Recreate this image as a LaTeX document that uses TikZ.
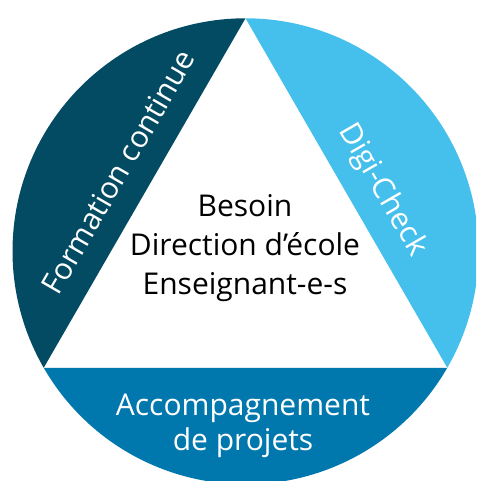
\documentclass[tikz,border=0pt]{standalone}
\usepackage{fontspec}
\setmainfont{Open Sans}
\usetikzlibrary{calc,positioning}
\definecolor{petrol}{HTML}{034B63}
\definecolor{himmel}{HTML}{45BFEB}
\definecolor{ozean}{HTML}{0077AD}
\tikzset{
		segtext/.style={
			text=white,
			font=\fontsize{30}{35}\selectfont,
			align=center,
			inner sep=0pt},
		kerntext/.style={
			text=black,
			font=\fontsize{30}{39}\selectfont,
			align=center,
			inner sep=0pt},
	}

\begin{document}
\begin{tikzpicture}[x=1pt,y=1pt]
				\useasboundingbox (0,0) rectangle (476,481);
				\clip (0,0) rectangle (476,481);
				
				%% circle centre and the three corners of the triangle
				\coordinate (mitte) at (245.5,229.7);
				\coordinate (spitze) at ($(mitte)+(90:233pt)$);
				\coordinate (links) at ($(mitte)+(210:233pt)$);
				\coordinate (rechts) at ($(mitte)+(330:233pt)$);
				
				%% circle segments outside the triangle
				\fill[petrol] (spitze) arc[start angle=90, end angle=210, radius=233pt] -- cycle;
				\fill[himmel] (spitze) arc[start angle=90, end angle=-30, radius=233pt] -- cycle;
				\fill[ozean] (links) arc[start angle=210, end angle=330, radius=233pt] -- cycle;
				
				\node[segtext, rotate=60] (weiterbildung) at (118,309) {Formation continue};
				\node[segtext, rotate=-60] (digi) at (382,291) {Digi-Check};
				\node[segtext] (begleitung) at (243,55) {Accompagnement\\de projets};
				
				\node[kerntext] (bedarf) at (245,233) {Besoin\\Direction d’école\\Enseignant-e-s};
				
\end{tikzpicture}
\end{document}
